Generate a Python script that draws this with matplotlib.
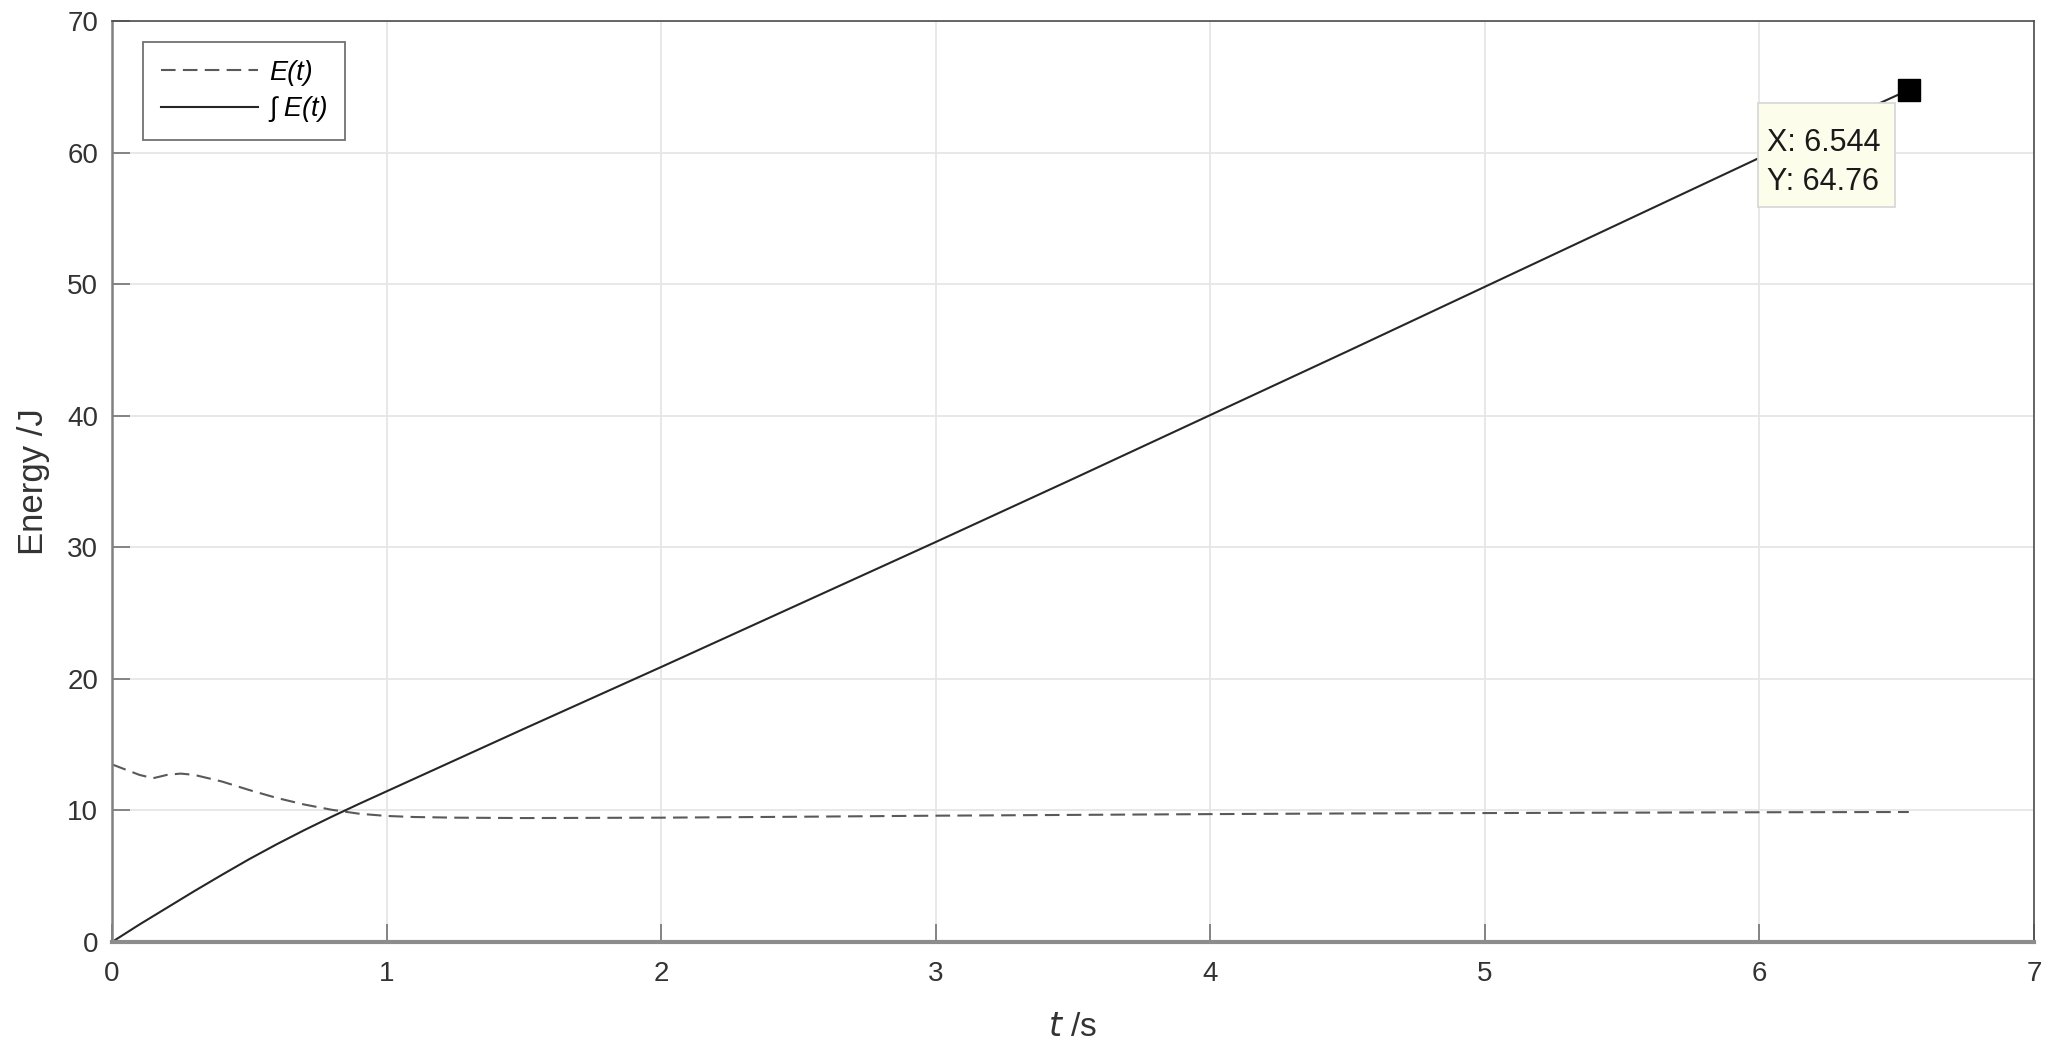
"""Energy E(t) and its running integral with a MATLAB-style datatip"""
import matplotlib
matplotlib.use('Agg')
import matplotlib.pyplot as plt
from matplotlib.patches import Rectangle

plt.rcParams['font.family'] = ['Liberation Sans', 'DejaVu Sans']

# E(t) (dashed)
t_e = [0.0, 0.05, 0.10, 0.15, 0.20, 0.25, 0.30, 0.40, 0.50, 0.60, 0.70, 0.80, 0.90,
       1.00, 1.10, 1.25, 1.50, 2.00, 2.50, 3.00, 3.50, 4.00, 4.50, 5.00, 5.50, 6.00, 6.544]
e_vals = [13.5, 13.1, 12.7, 12.45, 12.7, 12.8, 12.7, 12.2, 11.55, 10.95, 10.45, 10.05, 9.75,
          9.58, 9.5, 9.45, 9.42, 9.45, 9.52, 9.6, 9.66, 9.72, 9.77, 9.8, 9.83, 9.86, 9.88]

# running integral of E(t) (solid)
t_int = [0.0, 0.1, 0.2, 0.3, 0.4, 0.5, 0.6, 0.7, 0.8, 0.9, 1.0, 1.5, 2.0, 2.5,
         3.0, 3.5, 4.0, 4.5, 5.0, 5.5, 6.0, 6.544]
int_vals = [0.0, 1.33, 2.6, 3.87, 5.1, 6.3, 7.43, 8.5, 9.52, 10.5, 11.45, 16.2, 20.9, 25.65,
            30.4, 35.2, 40.05, 44.9, 49.8, 54.7, 59.6, 64.76]

tip_x, tip_y = 6.544, 64.76
xticks = [0, 1, 2, 3, 4, 5, 6, 7]
yticks = [0, 10, 20, 30, 40, 50, 60, 70]

fig = plt.figure(figsize=(20.57, 10.64), dpi=100)
ax = fig.add_axes([112 / 2057, 1 - 942 / 1064, (2034 - 112) / 2057, (942 - 21) / 1064])

ax.plot(t_e, e_vals, color='0.35', lw=1.5, ls=(0, (7, 3.5)), label='E(t)')
ax.plot(t_int, int_vals, color='0.15', lw=1.5, label='\u222b E(t)')

ax.set_xlim(0, 7); ax.set_ylim(0, 70)
ax.set_xticks(xticks); ax.set_yticks(yticks)
ax.grid(True, color='0.9', lw=1.3)
ax.set_axisbelow(True)
ax.tick_params(direction='in', length=13, width=1.2, colors='0.45', labelcolor='0.2', labelsize=20)
ax.tick_params(axis='x', pad=14)
ax.tick_params(axis='y', pad=10)
for s in ax.spines.values():
    s.set_color('0.3'); s.set_linewidth(1.2)
ax.spines['bottom'].set_color('0.55'); ax.spines['bottom'].set_linewidth(3)
ax.spines['left'].set_color('0.5'); ax.spines['left'].set_linewidth(1.8)

ax.set_xlabel('$t$ /s', fontsize=24, color='0.2')
ax.set_ylabel('Energy /J', fontsize=25, color='0.2')
ax.xaxis.set_label_coords(0.5, (942 - 1027) / 921)
ax.xaxis.label.set_va('center')
ax.yaxis.set_label_coords((33 - 112) / 1922, 0.5)
ax.yaxis.label.set_va('center')

leg = ax.legend(loc='upper left', bbox_to_anchor=((143 - 112) / 1922, (942 - 42) / 921),
                borderaxespad=0, prop=dict(size=19.5, style='italic'),
                frameon=True, fancybox=False, edgecolor='0.3', handlelength=3.6,
                handletextpad=0.4, borderpad=0.65, labelspacing=0.4)
leg.get_frame().set_linewidth(1.3)

# datatip: marker on the last point, box placed like MATLAB's tip (pixel coords / 100 = inches)
ax.plot([tip_x], [tip_y], marker='s', ms=16.5, color='black', mec='black', zorder=5)
ax.add_patch(Rectangle((17.58, (1064 - 207) / 100), 1.37, 1.04, transform=fig.dpi_scale_trans,
                       fc='#fdfdeb', ec='0.85', lw=1.3, clip_on=False, zorder=6))
ax.text(17.67, (1064 - 190) / 100, f'X: {tip_x}\nY: {tip_y}', transform=fig.dpi_scale_trans,
        fontsize=22, color='0.1', linespacing=1.4, ha='left', va='baseline', zorder=7)

fig.savefig('out.png', dpi=100)
